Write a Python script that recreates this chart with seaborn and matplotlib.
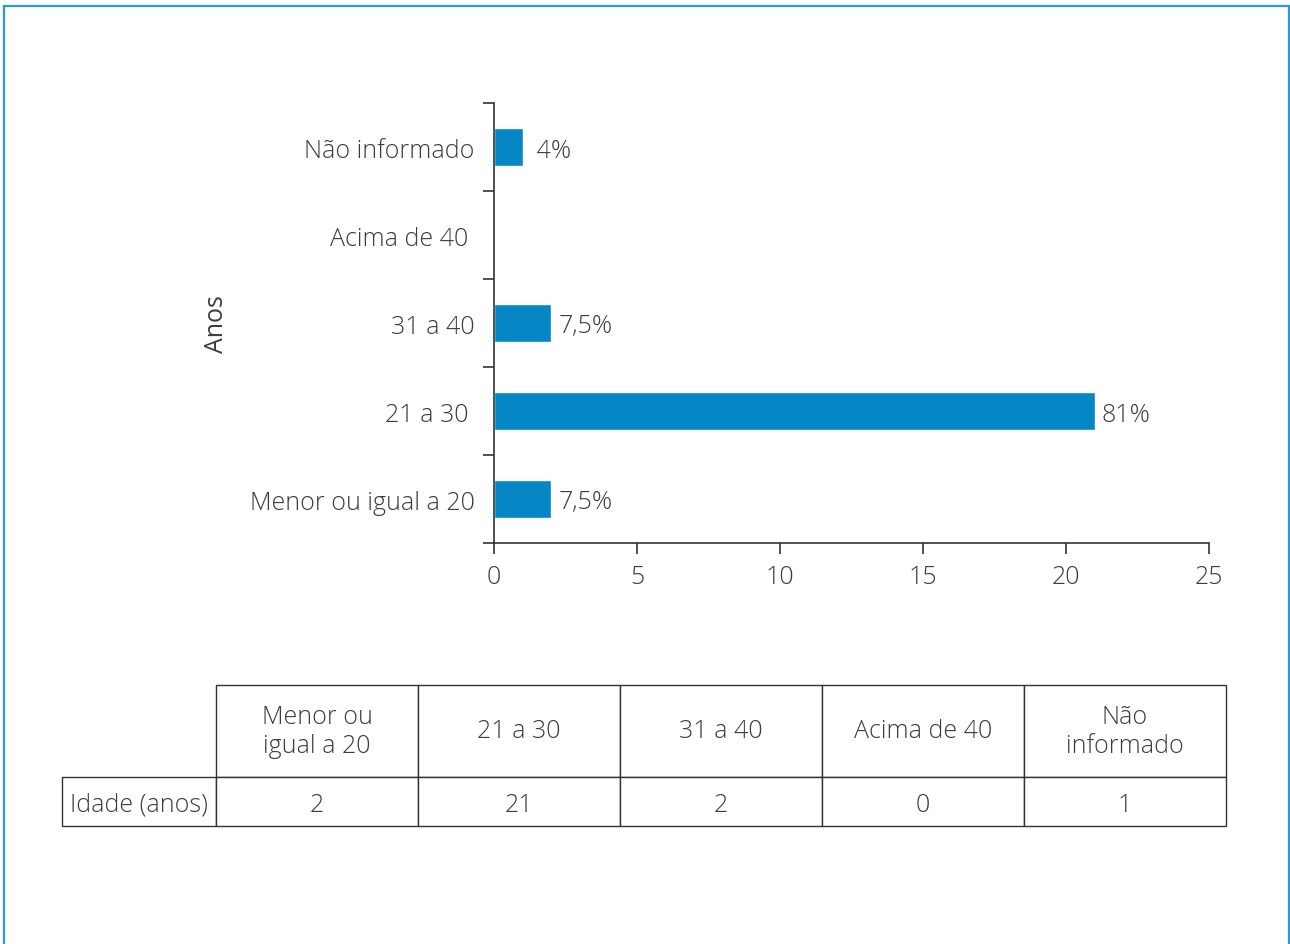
import matplotlib
matplotlib.use("Agg")
import matplotlib.pyplot as plt
import matplotlib.patches as mpatches
import pandas as pd
import seaborn as sns

# --- data ---
categories = ["Não informado", "Acima de 40", "31 a 40", "21 a 30", "Menor ou igual a 20"]
counts = [1, 0, 2, 21, 2]
pct_labels = [" 4%", "", "7,5%", "81%", "7,5%"]
tick_labels = ["Não informado", "Acima de 40 ", "31 a 40", "21 a 30 ", "Menor ou igual a 20"]
xticks = [0, 5, 10, 15, 20, 25]

table_header = ["Menor ou\nigual a 20", "21 a 30", "31 a 40", "Acima de 40", "Não\ninformado"]
table_row_label = "Idade (anos)"
table_values = ["2", "21", "2", "0", "1"]

BAR_COLOR = "#0587c6"
TEXT_COLOR = "#3c3c3c"
FRAME_COLOR = "#2a9ad6"
FS = 18

sns.set_theme(style="white")
plt.rcParams["font.family"] = ["Open Sans", "DejaVu Sans"]
plt.rcParams["font.weight"] = "light"
plt.rcParams["text.color"] = TEXT_COLOR

df = pd.DataFrame({"faixa": categories, "n": counts})

W, H = 1290, 945
fig = plt.figure(figsize=(W / 100, H / 100), dpi=100)
fig.patch.set_facecolor("white")

# main bar chart
ax = fig.add_axes([494 / W, 1 - 544 / H, (1209 - 494) / W, (544 - 104) / H])
sns.barplot(data=df, x="n", y="faixa", order=categories, color=BAR_COLOR,
            saturation=1, width=0.43, ax=ax, orient="h")

ax.set_xlim(0, 25)
ax.set_ylim(4.5, -0.5)
ax.set_xticks(xticks)
ax.set_xticklabels([str(t) for t in xticks], fontsize=FS, color=TEXT_COLOR)

# ticks on the category boundaries, labels on the centres
ax.set_yticks([i - 0.5 for i in range(len(categories) + 1)])
ax.set_yticklabels([])
ax.set_yticks(range(len(categories)), minor=True)
ax.set_yticklabels(tick_labels, minor=True, fontsize=FS, color=TEXT_COLOR)
ax.tick_params(axis="y", which="major", direction="out", length=8, width=1.2,
               color="#333333", left=True)
ax.tick_params(axis="y", which="minor", length=0, pad=14)
ax.tick_params(axis="x", direction="out", length=8, width=1.2, color="#333333",
               bottom=True, pad=7)

for side in ["top", "right"]:
    ax.spines[side].set_visible(False)
for side in ["left", "bottom"]:
    ax.spines[side].set_color("#333333")
    ax.spines[side].set_linewidth(1.2)

ax.set_xlabel("")
ax.set_ylabel("Anos", fontsize=FS, color=TEXT_COLOR)
ax.yaxis.set_label_coords(-0.37, 0.5)

anns = ax.bar_label(ax.containers[0], labels=pct_labels, padding=5, fontsize=FS,
                    color=TEXT_COLOR)
for a in anns:
    a.set_va("center_baseline")

# table below the chart
tax = fig.add_axes([62 / W, 1 - 827 / H, (1226 - 62) / W, (827 - 686) / H])
tax.axis("off")
cell_text = [[""] + table_header, [table_row_label] + table_values]
tbl = tax.table(cellText=cell_text, cellLoc="center", bbox=[0, 0, 1, 1])
tbl.auto_set_font_size(False)
col_w = [154] + [202] * 5
row_h = [92, 49]
for (r, c), cell in tbl.get_celld().items():
    cell.set_width(col_w[c])
    cell.set_height(row_h[r])
    cell.set_edgecolor("#333333")
    cell.set_linewidth(1.0)
    cell.get_text().set_fontsize(FS)
    cell.get_text().set_color(TEXT_COLOR)
    cell.get_text().set_fontweight("light")
    cell.get_text().set_linespacing(1.25)
    if r == 1:
        cell.get_text().set_va("center_baseline")
    if r == 0 and c == 0:
        cell.visible_edges = ""

# outer frame (open at the bottom)
frame = mpatches.Rectangle((4 / W, -0.05), (1289 - 4) / W, 1 - 7 / H + 0.05,
                           transform=fig.transFigure, fill=False,
                           edgecolor=FRAME_COLOR, linewidth=1.6, clip_on=False)
fig.patches.append(frame)

fig.savefig("out.png", dpi=100, facecolor="white")
